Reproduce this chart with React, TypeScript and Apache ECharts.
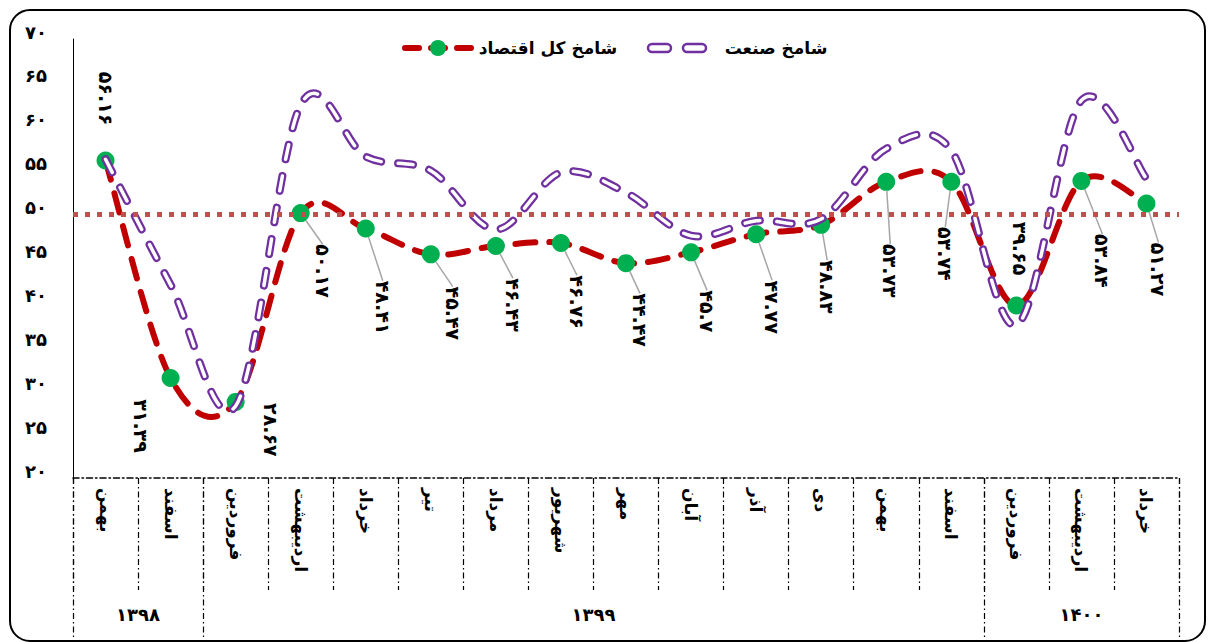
import React, { useEffect, useRef } from "react";
import * as echarts from "echarts";

// ---- data ----
const months = [
  "بهمن", "اسفند", "فروردین", "اردیبهشت", "خرداد", "تیر", "مرداد", "شهریور",
  "مهر", "آبان", "آذر", "دی", "بهمن", "اسفند", "فروردین", "اردیبهشت", "خرداد",
];
const years = ["۱۳۹۸", "۱۳۹۹", "۱۴۰۰"];
const yearSpans = [2, 12, 3];
const economy = [
  56.16, 31.39, 28.67, 50.17, 48.41, 45.47, 46.43, 46.76, 44.47, 45.7, 47.77,
  48.83, 53.73, 53.74, 39.65, 53.84, 51.27,
];
const industry = [
  56.3, 42, 28.2, 62.5, 56.6, 55, 48.3, 54.8, 52.5, 47.6, 49.3, 49.5, 57.5,
  57.3, 37.4, 63.0, 54.1,
];
const threshold = 50;
const yTicks = { min: 20, max: 70, interval: 5 };

// ---- layout / style helpers (not data) ----
// label offset on screen [dx, dy] from the point
const labelOffsets = [
  [0, -62], [-30, 48], [35, 28], [22, 58], [17, 79], [22, 59], [17, 59],
  [16, 59], [14, 57], [16, 59], [16, 73], [6, 62], [4, 89], [-6, 72],
  [4, -57], [21, 80], [12, 66],
];
const showLeader = [
  false, false, false, true, true, true, true, true, true, true, true, true,
  true, true, false, true, true,
];

const FONT = "DejaVu Sans";
const faDigits = "۰۱۲۳۴۵۶۷۸۹";
const toFa = (s: string | number) =>
  String(s).replace(/[0-9]/g, (d) => faDigits[Number(d)]);

const yearBounds: number[] = [0];
yearSpans.forEach((s) => yearBounds.push(yearBounds[yearBounds.length - 1] + s));
const yearCenters = yearSpans.map((s, i) => yearBounds[i] + s / 2);

const dashDot = [6, 3, 1.5, 3];

// Catmull-Rom spline through the points (like spreadsheet "smoothed line")
function smoothPath(pts: number[][]): string {
  let d = `M${pts[0][0]},${pts[0][1]}`;
  for (let i = 0; i < pts.length - 1; i++) {
    const p0 = pts[i - 1] || pts[i];
    const p1 = pts[i];
    const p2 = pts[i + 1];
    const p3 = pts[i + 2] || pts[i + 1];
    const c1x = p1[0] + (p2[0] - p0[0]) / 6;
    const c1y = p1[1] + (p2[1] - p0[1]) / 6;
    const c2x = p2[0] - (p3[0] - p1[0]) / 6;
    const c2y = p2[1] - (p3[1] - p1[1]) / 6;
    d += ` C${c1x},${c1y} ${c2x},${c2y} ${p2[0]},${p2[1]}`;
  }
  return d;
}

function curveSeries(values: number[], strokes: any[], z: number) {
  return {
    type: "custom",
    coordinateSystem: "cartesian2d",
    data: [[0, values[0]]],
    z,
    silent: true,
    renderItem: (_p: any, api: any) => {
      const pts = values.map((v, i) => api.coord([i, v]));
      const d = smoothPath(pts);
      return {
        type: "group",
        children: strokes.map((s) => ({
          type: "path",
          shape: { pathData: d },
          style: { fill: "none", ...s },
        })),
      };
    },
  };
}

export default function App() {
  const ref = useRef<HTMLDivElement>(null);
  useEffect(() => {
    if (!ref.current) return;
    const chart = echarts.init(ref.current, null, { renderer: "svg" });
    const capsuleDash = [15, 17];
    chart.setOption({
      animation: false,
      backgroundColor: "#fff",
      grid: { left: 73, top: 39, width: 1106, height: 439, containLabel: false },
      xAxis: [
        {
          type: "category",
          data: months,
          boundaryGap: true,
          position: "bottom",
          axisLine: { show: true, lineStyle: { color: "#000", width: 1.5, type: dashDot } },
          axisTick: {
            show: true,
            interval: 0,
            length: 112,
            lineStyle: { color: "#000", width: 1.2, type: dashDot },
          },
          axisLabel: {
            interval: 0,
            rotate: -90,
            margin: 10,
            color: "#000",
            fontFamily: FONT,
            fontSize: 17,
            fontWeight: "bold",
          },
          splitLine: { show: false },
        },
        {
          type: "value",
          min: 0,
          max: yearBounds[yearBounds.length - 1],
          position: "bottom",
          axisLine: { show: false },
          splitLine: { show: false },
          axisTick: {
            show: true,
            customValues: yearBounds,
            length: 166,
            lineStyle: { color: "#000", width: 1.2, type: dashDot },
          },
          axisLabel: {
            show: true,
            customValues: yearCenters,
            margin: 127,
            color: "#000",
            fontFamily: FONT,
            fontSize: 18,
            fontWeight: "bold",
            formatter: (v: number) => {
              const i = yearCenters.findIndex((c) => Math.abs(c - v) < 1e-6);
              return i >= 0 ? years[i] : "";
            },
          },
        },
      ],
      yAxis: {
        type: "value",
        min: yTicks.min,
        max: yTicks.max,
        interval: yTicks.interval,
        axisLine: { show: true, lineStyle: { color: "#000", width: 1 } },
        axisTick: { show: false },
        splitLine: { show: false },
        axisLabel: {
          margin: 26,
          color: "#000",
          fontFamily: FONT,
          fontSize: 18,
          fontWeight: "bold",
          verticalAlign: "bottom",
          lineHeight: 14,
          formatter: (v: number) => toFa(v),
        },
      },
      series: [
        curveSeries(
          economy,
          [{ stroke: "#C00000", lineWidth: 6, lineDash: [20, 14], lineCap: "round" }],
          1
        ),
        {
          name: "شامخ کل اقتصاد",
          type: "line",
          data: economy.map((v, i) => ({
            value: v,
            labelLine: { show: showLeader[i] },
          })),
          z: 2,
          symbol: "circle",
          symbolSize: 18,
          itemStyle: { color: "#00B050" },
          lineStyle: { opacity: 0 },
          label: {
            show: true,
            position: "inside",
            rotate: -90,
            align: "center",
            verticalAlign: "middle",
            color: "#000",
            fontFamily: FONT,
            fontSize: 19,
            fontWeight: "bold",
            formatter: (p: any) => toFa(p.value),
          },
          labelLine: { show: true, lineStyle: { color: "#A6A6A6", width: 1.5 } },
          // label is rotated -90deg, so its local dx/dy are screen (dy, -dx)
          labelLayout: (p: any) => {
            const o = labelOffsets[p.dataIndex] || [0, 0];
            return { dx: o[1], dy: -o[0] };
          },
          markLine: {
            silent: true,
            symbol: "none",
            label: { show: false },
            lineStyle: { color: "#C0504D", width: 5, type: [5, 7], cap: "butt" },
            data: [{ yAxis: threshold }],
          },
        },
        curveSeries(
          industry,
          [
            { stroke: "#7030A0", lineWidth: 8, lineDash: capsuleDash, lineCap: "round" },
            { stroke: "#ffffff", lineWidth: 3.5, lineDash: capsuleDash, lineCap: "round" },
          ],
          3
        ),
      ],
      graphic: [
        {
          type: "rect",
          shape: { x: 10, y: 10, width: 1195, height: 631, r: 20 },
          style: { fill: "none", stroke: "#000", lineWidth: 2 },
          z: 100,
          silent: true,
        },
        {
          type: "group",
          z: 100,
          children: [
            {
              type: "line",
              shape: { x1: 405, y1: 48, x2: 473, y2: 48 },
              style: { stroke: "#C00000", lineWidth: 6, lineDash: [14, 12], lineCap: "round" },
            },
            { type: "circle", shape: { cx: 438, cy: 48, r: 8 }, style: { fill: "#00B050" } },
            {
              type: "text",
              x: 548,
              y: 48,
              style: {
                text: "شامخ کل اقتصاد",
                fill: "#000",
                font: `bold 17px "${FONT}"`,
                align: "center",
                verticalAlign: "middle",
              },
            },
            {
              type: "rect",
              shape: { x: 648, y: 44, width: 23, height: 8, r: 4 },
              style: { fill: "#fff", stroke: "#7030A0", lineWidth: 2.5 },
            },
            {
              type: "rect",
              shape: { x: 683, y: 44, width: 23, height: 8, r: 4 },
              style: { fill: "#fff", stroke: "#7030A0", lineWidth: 2.5 },
            },
            {
              type: "text",
              x: 776,
              y: 48,
              style: {
                text: "شامخ صنعت",
                fill: "#000",
                font: `bold 17px "${FONT}"`,
                align: "center",
                verticalAlign: "middle",
              },
            },
          ],
        },
      ],
    });
    return () => chart.dispose();
  }, []);
  return (
    <div
      ref={ref}
      style={{ position: "fixed", left: 0, top: 0, width: 1212, height: 642, background: "#fff" }}
    />
  );
}
